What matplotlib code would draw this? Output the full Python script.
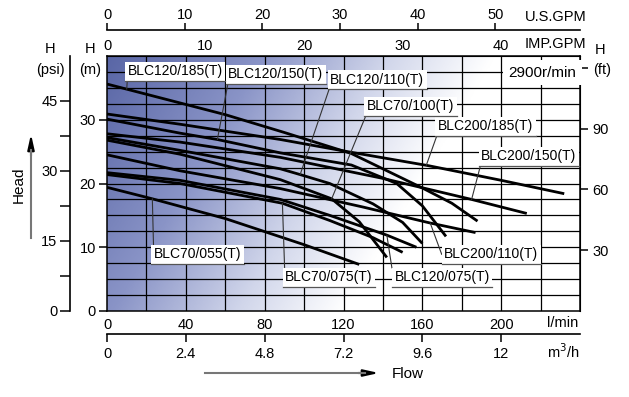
import numpy as np
import matplotlib
matplotlib.use("Agg")
import matplotlib.pyplot as plt
from matplotlib.colors import LinearSegmentedColormap
from matplotlib.lines import Line2D

plt.rcParams['font.family'] = ['Liberation Sans', 'DejaVu Sans']

# ---------------- data ----------------
flow_120_185 = [0, 30, 60, 90, 124, 140, 160, 175, 188]
head_120_185 = [35.6, 33.2, 30.8, 28.0, 24.7, 22.3, 19.3, 16.9, 14.1]

flow_200_185 = [0, 37, 88, 122, 163, 200, 232]
head_200_185 = [30.9, 29.3, 26.9, 25.0, 22.8, 20.5, 18.4]

flow_120_150 = [0, 37, 56, 88, 124, 147, 160, 172]
head_120_150 = [30.1, 27.9, 26.9, 24.8, 22.9, 20.0, 16.5, 11.7]

flow_200_150 = [0, 37, 88, 140, 185, 213]
head_200_150 = [27.8, 26.5, 24.1, 20.8, 17.5, 15.3]

flow_120_110 = [0, 37, 88, 98, 113, 135, 150, 160]
head_120_110 = [27.2, 25.2, 22.3, 21.4, 20.0, 16.8, 13.9, 10.6]

flow_70_100 = [0, 37, 88, 114, 128, 142]
head_70_100 = [26.8, 24.6, 20.6, 17.6, 14.0, 8.4]

flow_200_110 = [0, 37, 88, 130, 164, 187]
head_200_110 = [24.5, 22.0, 19.2, 16.3, 13.8, 12.3]

flow_120_075 = [0, 37, 88, 113, 142, 157]
head_120_075 = [21.7, 20.5, 17.5, 15.0, 11.9, 10.0]

flow_70_075 = [0, 37, 89, 113, 135, 150]
head_70_075 = [21.4, 20.0, 16.9, 14.2, 11.5, 9.2]

flow_70_055 = [0, 23, 60, 100, 128]
head_70_055 = [19.4, 17.6, 14.5, 10.4, 7.3]

curve_names = ["BLC120/185(T)", "BLC200/185(T)", "BLC120/150(T)", "BLC200/150(T)",
               "BLC120/110(T)", "BLC70/100(T)", "BLC200/110(T)", "BLC120/075(T)",
               "BLC70/075(T)", "BLC70/055(T)"]
curve_flows = [flow_120_185, flow_200_185, flow_120_150, flow_200_150, flow_120_110,
               flow_70_100, flow_200_110, flow_120_075, flow_70_075, flow_70_055]
curve_heads = [head_120_185, head_200_185, head_120_150, head_200_150, head_120_110,
               head_70_100, head_200_110, head_120_075, head_70_075, head_70_055]

# flow at which each label's leader touches its curve
pointer_flow = [10, 162, 56, 185, 98, 114, 164, 142, 89, 23]

# unit conversions as drawn on the chart
m_per_psi = 0.733
m_per_ft = 0.318
lpm_per_usgpm = 3.94
lpm_per_impgpm = 5.0
lpm_per_m3h = 1000 / 60

lpm_ticks = [0, 40, 80, 120, 160, 200]
m_ticks = [0, 10, 20, 30]
psi_ticks = [0, 15, 30, 45]
ft_ticks = [30, 60, 90, 120]
ft_labels = ["30", "60", "90", ""]
usgpm_ticks = [0, 10, 20, 30, 40, 50]
impgpm_ticks = [0, 10, 20, 30, 40]
m3h_ticks = [0, 2.4, 4.8, 7.2, 9.6, 12]
m3h_labels = ["0", "2.4", "4.8", "7.2", "9.6", "12"]

# ---------------- figure ----------------
W, H = 629, 397
fig = plt.figure(figsize=(W / 100, H / 100), dpi=100)
L, R, T, B = 107, 580, 56, 311
ax = fig.add_axes([L / W, (H - B) / H, (R - L) / W, (B - T) / H])
ax.set_xlim(0, 240)
ax.set_ylim(0, 40)

# background gradient
nx, ny = 400, 200
u = np.linspace(0, 1, nx)[None, :]
v = np.linspace(0, 1, ny)[:, None]
t = np.clip(u * 1.0 + 0.32 * (1 - v), 0, 1)
cmap = LinearSegmentedColormap.from_list(
    "bg", [(0.0, (0.35, 0.40, 0.65)), (0.33, (0.54, 0.58, 0.78)),
           (0.6, (0.82, 0.84, 0.92)), (0.82, (1, 1, 1)), (1.0, (1, 1, 1))])
ax.imshow(t, extent=[0, 240, 0, 40], origin="lower", aspect="auto",
          cmap=cmap, vmin=0, vmax=1, zorder=0, interpolation="bilinear")

# grid
for gx in np.arange(20, 240, 20):
    ax.axvline(gx, color="black", lw=0.9, zorder=1)
for gy in np.arange(2.5, 40, 2.5):
    ax.axhline(gy, color="black", lw=0.9, zorder=1)

for sp in ax.spines.values():
    sp.set_linewidth(1.1)
    sp.set_zorder(5)

# curves
for fl, hd in zip(curve_flows, curve_heads):
    ax.plot(fl, hd, color="black", lw=2.0, solid_capstyle="butt", zorder=3)

# labels
label_pos = [(34.5, 37.6), (192, 29.0), (85.7, 37.1), (214, 24.3), (137, 36.3),
             (154, 32.1), (195, 8.9), (170, 5.3), (112.6, 5.3), (46, 8.9)]
anns = []
for name, fl, hd, pf, (lx, ly) in zip(curve_names, curve_flows, curve_heads,
                                       pointer_flow, label_pos):
    py = np.interp(pf, fl, hd)
    a = ax.annotate(name, xy=(pf, py), xytext=(lx, ly), textcoords="data",
                    ha="center", va="center", fontsize=10, zorder=6,
                    bbox=dict(boxstyle="square,pad=0.18", fc="white", ec="none"),
                    arrowprops=dict(arrowstyle="-", color="#333333", lw=0.8,
                                    relpos=(0, 0), shrinkA=0, shrinkB=0))
    anns.append(a)

ax.text(221, 37.4, "2900r/min", ha="center", va="center", fontsize=11, zorder=6,
        bbox=dict(boxstyle="square,pad=0.35", fc="white", ec="none"))

# bottom l/min
ax.set_xticks(lpm_ticks)
ax.set_xticklabels([str(v) for v in lpm_ticks])
ax.tick_params(axis="x", length=0, pad=5, labelsize=10.5)
ax.set_yticks(m_ticks)
ax.tick_params(axis="y", length=6, width=1.1, direction="out", pad=2, labelsize=10.5)

# psi axis
psi = ax.secondary_yaxis(-37 / 473, functions=(lambda m: m / m_per_psi,
                                                lambda p: p * m_per_psi))
psi.set_yticks(psi_ticks)
psi.set_yticks([7.5, 22.5, 37.5], minor=True)
psi.tick_params(which="both", length=7, width=1.1, pad=2, labelsize=10.5)
psi.spines["left"].set_linewidth(1.2)

# ft axis
ft = ax.secondary_yaxis("right", functions=(lambda m: m / m_per_ft,
                                             lambda f: f * m_per_ft))
ft.set_yticks(ft_ticks)
ft.set_yticklabels(ft_labels)
ft.tick_params(length=6, width=1.1, pad=3, labelsize=10.5)

# IMP.GPM top
imp = ax.secondary_xaxis("top", functions=(lambda q: q / lpm_per_impgpm,
                                            lambda g: g * lpm_per_impgpm))
imp.set_xticks(impgpm_ticks)
imp.tick_params(length=0, pad=2, labelsize=10.5)

# U.S.GPM top
us = ax.secondary_xaxis(1 + 26 / 255, functions=(lambda q: q / lpm_per_usgpm,
                                                  lambda g: g * lpm_per_usgpm))
us.set_xticks(usgpm_ticks)
us.tick_params(length=5, width=1.1, pad=1, labelsize=10.5)
us.spines["top"].set_linewidth(1.2)

# m3/h bottom
m3 = ax.secondary_xaxis(-23 / 255, functions=(lambda q: q / lpm_per_m3h,
                                               lambda c: c * lpm_per_m3h))
m3.set_xticks(m3h_ticks)
m3.set_xticklabels(m3h_labels)
m3.tick_params(length=6, width=1.1, pad=3, labelsize=10.5)
m3.spines["bottom"].set_linewidth(1.2)


def ftxt(px, py, s, **kw):
    kw.setdefault("fontsize", 10.5)
    fig.text(px / W, 1 - py / H, s, **kw)


ftxt(556, 17, "U.S.GPM", ha="center", va="center")
ftxt(555, 44, "IMP.GPM", ha="center", va="center")
ftxt(563, 323, "l/min", ha="center", va="center")
ftxt(563, 352, "m$^3$/h", ha="center", va="center")
ftxt(50, 49, "H", ha="center", va="center")
ftxt(50, 70, "(psi)", ha="center", va="center")
ftxt(90, 49, "H", ha="center", va="center")
ftxt(90, 70, "(m)", ha="center", va="center")
ftxt(600, 50, "H", ha="center", va="center")
ftxt(602, 70, "(ft)", ha="center", va="center")
ftxt(19, 185, "Head", ha="center", va="center", rotation=90, fontsize=11)
ftxt(408, 374, "Flow", ha="center", va="center", fontsize=11)

# arrows
fig.add_artist(Line2D([31 / W, 31 / W], [1 - 238 / H, 1 - 150 / H],
                      transform=fig.transFigure, color="#777777", lw=1.5))
fig.add_artist(Line2D([205 / W, 365 / W], [1 - 373 / H, 1 - 373 / H],
                      transform=fig.transFigure, color="#777777", lw=1.5))
ax.annotate("", xy=(31, H - 134), xytext=(31, H - 156), xycoords="figure pixels",
            textcoords="figure pixels", annotation_clip=False,
            arrowprops=dict(arrowstyle="-|>,head_length=0.9,head_width=0.2",
                            color="black", lw=1.5, shrinkA=0, shrinkB=0))
ax.annotate("", xy=(379, H - 373), xytext=(358, H - 373), xycoords="figure pixels",
            textcoords="figure pixels", annotation_clip=False,
            arrowprops=dict(arrowstyle="-|>,head_length=0.9,head_width=0.2",
                            color="black", lw=1.5, shrinkA=0, shrinkB=0))

# underline of each label box
fig.canvas.draw()
inv = fig.transFigure.inverted()
for a in anns:
    bb = a.get_bbox_patch().get_window_extent()
    (x0, y0), (x1, _) = inv.transform([(bb.x0, bb.y0), (bb.x1, bb.y0)])
    fig.add_artist(Line2D([x0, x1], [y0, y0], transform=fig.transFigure,
                          color="#555555", lw=0.9, zorder=7))

fig.savefig("out.png", dpi=100)
